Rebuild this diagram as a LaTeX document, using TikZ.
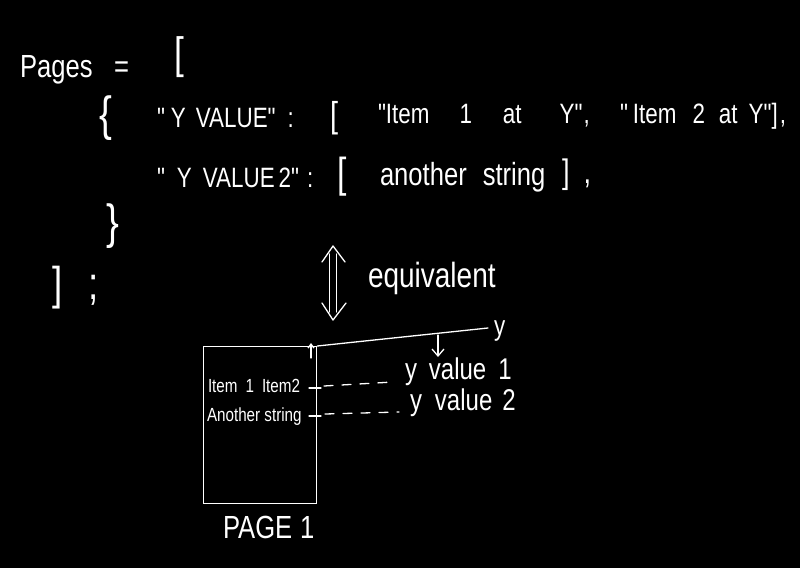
\documentclass[tikz,border=0pt]{standalone}
\usepackage{fontspec}
\newfontfamily\hand[FakeStretch=0.8]{Liberation Sans}
\usetikzlibrary{arrows.meta}
\begin{document}
\begin{tikzpicture}[x=1pt,y=-1pt,
  hw/.style={text=white, inner sep=0pt, outer sep=0pt, anchor=base west, font=\hand\fontsize{#1}{#1}\selectfont},
  pen/.style={draw=white, line width=1.3pt, line cap=round, line join=round},
  barb/.style={-{Straight Barb[length=7pt,width=12pt]}},
  smallbarb/.style={-{Straight Barb[length=4pt,width=6pt]}},
  dashline/.style={pen, dash pattern=on 9pt off 9pt}]
\fill[black] (0,0) rectangle (800,568);
\useasboundingbox (0,0) rectangle (800,568);

% code text
\node[hw=32] (pages) at (20,77) {Pages};
\node[hw=32] (eq) at (114,77) {=};
\node[hw=44] (open) at (174,68) {[};
\node[hw=48] (lbrace) at (99,130) {\{};
\node[hw=28] (key1) at (157,127) {"\hspace{6pt}Y\hspace{10pt}VALUE"\hspace{12pt}:};
\node[hw=36] (open1) at (330,127) {[};
\node[hw=28] (item1) at (378,123) {"Item\hspace{30pt}1\hspace{31pt}at\hspace{38pt}Y"\hspace{1pt},};
\node[hw=28] (item2) at (620,123) {"\hspace{5pt}Item\hspace{16pt}2\hspace{14pt}at\hspace{11pt}Y"]\hspace{2pt},};
\node[hw=28] (key2) at (157,187) {"\hspace{12pt}Y\hspace{11pt}VALUE\hspace{4pt}2"\hspace{8pt}:};
\node[hw=42] (open2) at (337,187) {[};
\node[hw=32] (str) at (380,185) {another\hspace{16pt}string};
\node[hw=34] (close2) at (562,183) {]\hspace{14pt},};
\node[hw=48] (rbrace) at (106,238) {\}};
\node[hw=46] (close) at (52,299) {]\hspace{26pt};};

% equivalent arrow
\coordinate (eqt) at (333,246);
\coordinate (eqb) at (333,320);
\draw[pen] (eqt) ++(-3.5,8) -- ++(0,58);
\draw[pen] (eqt) ++(3.5,8) -- ++(0,58);
\draw[pen] (eqt) ++(-11,16) -- (eqt) -- ++(12,16);
\draw[pen] (eqb) ++(-11,-17) -- (eqb) -- ++(13,-17);
\node[hw=35] (equiv) at (368,287) {equivalent};

% page
\node[draw=white, line width=1.3pt, minimum width=113pt, minimum height=157pt,
      anchor=north west, inner sep=0pt] (page) at (203,346) {};
\coordinate (axend) at (488,328);
\draw[pen] (page.north east) -- (axend);
\node[hw=28] (ylab) at (494,335) {y};
\coordinate (d0) at (438,335);
\coordinate (d1) at (438,357);
\draw[pen, barb] (d0) -- (d1);
\coordinate (u0) at (311,358);
\coordinate (u1) at (311,343);
\draw[pen, smallbarb] (u0) -- (u1);

\node[hw=19] (it) at (208,392) {Item\hspace{8pt}1\hspace{8pt}Item2};
\node[hw=19] (an) at (207,421) {Another string};
\coordinate (t1a) at (309,388);
\coordinate (t1b) at (321,388);
\coordinate (t2a) at (309,416);
\coordinate (t2b) at (321,416);
\draw[pen] (t1a) -- (t1b);
\draw[pen] (t2a) -- (t2b);

\node[hw=30] (yv1) at (405,379) {y\hspace{12pt}value\hspace{12pt}1};
\node[hw=30] (yv2) at (410,410) {y\hspace{13pt}value\hspace{10pt}2};
\coordinate (e1) at (393,382);
\coordinate (e2) at (399,412);
\draw[dashline] (t1b) ++(3,-2) -- (e1);
\draw[dashline] (t2b) ++(4,-2) -- (e2);

\node[hw=32] (pl) at (223,538) {PAGE\hspace{8pt}1};
\end{tikzpicture}
\end{document}
